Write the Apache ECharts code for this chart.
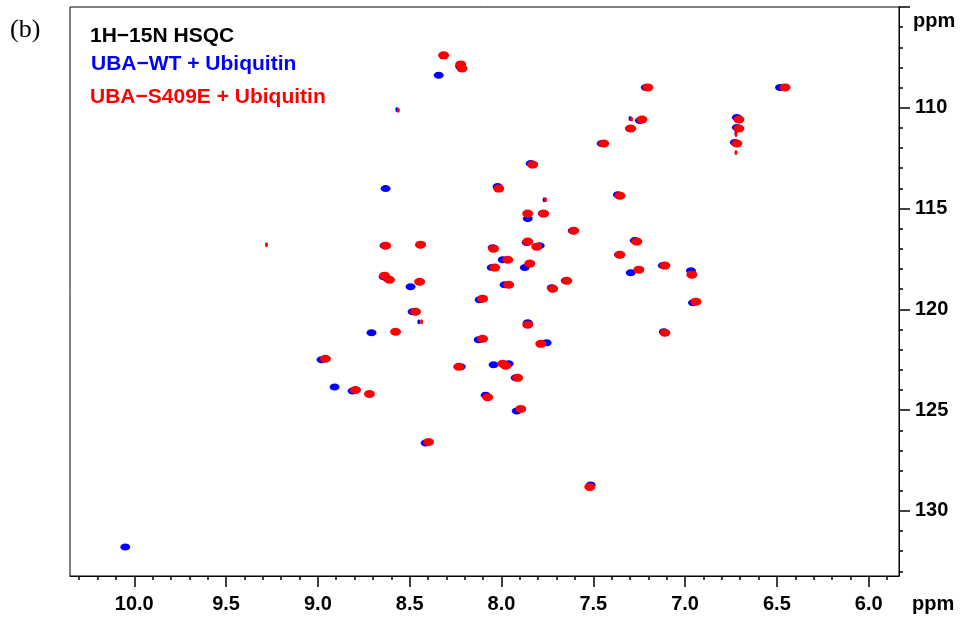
<!DOCTYPE html>
<html>
<head>
<meta charset="utf-8">
<script src="https://cdn.jsdelivr.net/npm/echarts@6/dist/echarts.min.js"></script>
<style>html,body{margin:0;padding:0;background:#fff;}#chart{width:961px;height:619px;}</style>
</head>
<body>
<div id="chart"></div>
<script>
// 1H (ppm), 15N (ppm) peak positions
const wtPeaks = [
  [8.342,108.39],[8.225,107.95],[7.214,108.99],[6.483,108.99],[7.454,111.77],[7.246,110.63],
  [7.300,111.03],[6.718,110.48],[6.718,110.98],[6.729,111.72],[7.841,112.77],[8.021,113.91],
  [8.631,114.01],[7.366,114.31],[7.857,115.50],[7.775,115.25],[7.612,116.10],[7.863,116.69],
  [7.792,116.84],[8.048,116.94],[8.637,116.84],[8.441,116.79],[7.274,116.59],[7.360,117.29],
  [7.993,117.54],[7.873,117.93],[8.053,117.93],[7.121,117.83],[7.296,118.18],[6.968,118.08],
  [8.642,118.38],[8.620,118.48],[8.495,118.88],[7.650,118.58],[7.726,118.93],[7.983,118.78],
  [8.119,119.52],[6.957,119.67],[8.484,120.12],[7.857,120.66],[7.116,121.11],[8.708,121.16],
  [8.124,121.51],[7.754,121.66],[8.980,122.50],[8.222,122.85],[8.043,122.75],[7.961,122.70],
  [7.923,123.40],[8.909,123.85],[8.811,124.05],[8.086,124.26],[7.917,125.04],[8.413,126.63],
  [7.514,128.71],[10.049,131.79]
];
const s409ePeaks = [
  [8.315,107.40],[8.222,107.85],[8.215,108.05],[7.203,108.99],[6.456,108.99],[7.443,111.77],
  [7.235,110.58],[7.296,111.03],[6.707,110.58],[6.707,111.03],[6.718,111.77],[7.830,112.82],
  [8.015,114.01],[7.355,114.36],[7.857,115.25],[7.770,115.25],[7.606,116.10],[7.857,116.64],
  [7.808,116.89],[8.043,116.99],[8.631,116.84],[8.441,116.79],[7.263,116.64],[7.355,117.29],
  [7.966,117.54],[7.846,117.73],[8.037,117.93],[7.110,117.83],[7.252,118.03],[6.963,118.28],
  [8.637,118.33],[8.610,118.53],[8.446,118.63],[7.644,118.58],[7.721,118.98],[7.961,118.78],
  [8.103,119.47],[6.941,119.62],[8.468,120.12],[7.857,120.76],[7.110,121.16],[8.577,121.11],
  [8.103,121.46],[7.786,121.71],[8.959,122.45],[8.233,122.85],[7.993,122.70],[7.977,122.80],
  [7.912,123.40],[8.795,124.00],[8.719,124.20],[8.075,124.36],[7.895,124.94],[8.397,126.58],
  [7.519,128.81]
];
const wtWeakPeaks = [
  [8.570,110.08],[7.300,110.53],[6.723,111.23],[7.768,114.56],[8.450,120.61]
];
const s409eWeakPeaks = [
  [8.562,110.12],[7.292,110.56],[6.723,111.33],[6.723,112.22],[7.760,114.56],[8.435,120.61],[9.280,116.79]
];
const xMajorTicks = [10.0,9.5,9.0,8.5,8.0,7.5,7.0,6.5,6.0];
const xMinorTicks = [10.3,10.2,10.1,9.9,9.8,9.7,9.6,9.4,9.3,9.2,9.1,8.9,8.8,8.7,8.6,8.4,8.3,8.2,8.1,
  7.9,7.8,7.7,7.6,7.4,7.3,7.2,7.1,6.9,6.8,6.7,6.6,6.4,6.3,6.2,6.1,5.9];
const yMajorTicks = [105,110,115,120,125,130];
const yLabelTicks = [110,115,120,125,130];
const yMinorTicks = [106,107,108,109,111,112,113,114,116,117,118,119,121,122,123,124,126,127,128,129,131,132,133];

const X_MIN = 5.835, X_MAX = 10.35, Y_MIN = 105, Y_MAX = 133.23;
const FONT = "'Liberation Sans', Arial, Helvetica, sans-serif";

const chart = echarts.init(document.getElementById('chart'), null, {renderer:'canvas'});
function xAxisBase(){
  return {type:'value', min:X_MIN, max:X_MAX, inverse:true, position:'bottom', splitLine:{show:false}};
}
function yAxisBase(){
  return {type:'value', min:Y_MIN, max:Y_MAX, inverse:true, position:'right', splitLine:{show:false}};
}
chart.setOption({
  animation:false,
  backgroundColor:'#fff',
  grid:{left:70, right:62, top:7, bottom:43, show:true, borderColor:'#000', borderWidth:1, backgroundColor:'transparent'},
  xAxis:[
    Object.assign(xAxisBase(), {
      axisLine:{show:true, onZero:false, lineStyle:{color:'#000', width:1}},
      axisTick:{show:true, customValues:xMajorTicks, length:11, inside:false, lineStyle:{color:'#000', width:1.5}},
      axisLabel:{show:true, customValues:xMajorTicks, formatter:(v)=>v.toFixed(1), margin:18,
        fontSize:20, fontWeight:'bold', color:'#000', fontFamily:FONT}
    }),
    Object.assign(xAxisBase(), {
      axisLine:{show:false},
      axisTick:{show:true, customValues:xMinorTicks, length:4, inside:false, lineStyle:{color:'#000', width:1.5}},
      axisLabel:{show:false}
    })
  ],
  yAxis:[
    Object.assign(yAxisBase(), {
      axisLine:{show:true, onZero:false, lineStyle:{color:'#000', width:1}},
      axisTick:{show:true, customValues:yMajorTicks, length:11, inside:false, lineStyle:{color:'#000', width:1.5}},
      axisLabel:{show:true, customValues:yLabelTicks, margin:16, padding:[3,0,0,0],
        fontSize:20, fontWeight:'bold', color:'#000', fontFamily:FONT}
    }),
    Object.assign(yAxisBase(), {
      axisLine:{show:false},
      axisTick:{show:true, customValues:yMinorTicks, length:4, inside:false, lineStyle:{color:'#000', width:1.5}},
      axisLabel:{show:false}
    })
  ],
  series:[
    {name:'UBA-WT + Ubiquitin', type:'scatter', xAxisIndex:0, yAxisIndex:0, data:wtPeaks,
      symbol:'circle', symbolSize:[10,7], itemStyle:{color:'#0000ff', opacity:1}, z:2, silent:true},
    {name:'UBA-WT weak', type:'scatter', xAxisIndex:0, yAxisIndex:0, data:wtWeakPeaks,
      symbol:'circle', symbolSize:[3,5], itemStyle:{color:'#0000ff', opacity:1}, z:2, silent:true},
    {name:'UBA-S409E + Ubiquitin', type:'scatter', xAxisIndex:0, yAxisIndex:0, data:s409ePeaks,
      symbol:'circle', symbolSize:[11,8], itemStyle:{color:'#ff0000', opacity:1}, z:3, silent:true},
    {name:'UBA-S409E weak', type:'scatter', xAxisIndex:0, yAxisIndex:0, data:s409eWeakPeaks,
      symbol:'circle', symbolSize:[3,5], itemStyle:{color:'#ff0000', opacity:1}, z:3, silent:true}
  ],
  graphic:[
    {type:'text', left:10, top:17, style:{text:'(b)', font:"26px 'Liberation Serif', 'Times New Roman', serif", fill:'#000'}},
    {type:'text', left:90, top:26, style:{text:'1H\u221215N HSQC', font:"bold 21px "+FONT, fill:'#000'}},
    {type:'text', left:91, top:54, style:{text:'UBA\u2212WT + Ubiquitin', font:"bold 21px "+FONT, fill:'#0000ff'}},
    {type:'text', left:90, top:87, style:{text:'UBA\u2212S409E + Ubiquitin', font:"bold 21px "+FONT, fill:'#ff0000'}},
    {type:'text', left:913, top:11, style:{text:'ppm', font:"bold 20px "+FONT, fill:'#000'}},
    {type:'text', left:912, top:594, style:{text:'ppm', font:"bold 20px "+FONT, fill:'#000'}}
  ]
});
</script>
</body>
</html>
